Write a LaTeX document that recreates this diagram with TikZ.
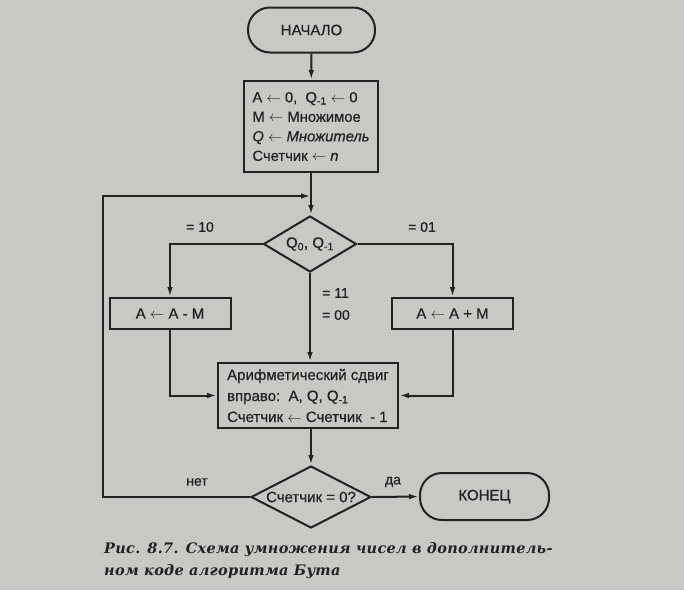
\documentclass[tikz,border=0pt]{standalone}
\usepackage{fontspec}
\setmainfont{Liberation Sans}[FakeBold=0.5, ItalicFeatures={FakeBold=0.5}]
\newfontfamily\capfont[LetterSpace=2]{DejaVu Serif}
\usetikzlibrary{shapes.geometric,arrows.meta}
\definecolor{paper}{RGB}{200,200,197}
\definecolor{ink}{RGB}{34,34,34}
\begin{document}
\begin{tikzpicture}[x=1pt,y=-1pt,
  every node/.style={text=ink},
  ln/.style={draw=ink, line width=2pt},
  arr/.style={ln, -{Latex[length=10pt,width=5.5pt]}},
  term/.style={ln, rectangle, rounded corners=22pt, minimum width=127pt, minimum height=45pt, font=\fontsize{15}{17}\selectfont},
  proc/.style={ln, rectangle, inner sep=0pt},
  dec/.style={ln, diamond, inner sep=0pt},
  lbl/.style={font=\fontsize{14}{16}\selectfont, inner sep=0pt}
]
\fill[paper] (0,0) rectangle (684,590);
% nodes
\node[term] (start) at (311.5,30) {НАЧАЛО};
\node[proc, minimum width=134pt, minimum height=91pt, align=left, font=\fontsize{14.8}{19.5}\selectfont] (init) at (311,126.5)
  {A $\leftarrow$ 0,\ \ Q\textsubscript{-1} $\leftarrow$ 0\\ M $\leftarrow$ Множимое\\ \textit{Q} $\leftarrow$ \textit{Множитель}\\ Счетчик $\leftarrow$ \textit{n}};
\node[dec, minimum width=93pt, minimum height=56pt, label={[lbl, font=\fontsize{15}{17}\selectfont]center:Q\textsubscript{0}, Q\textsubscript{-1}}] (d1) at (310,244) {};
\node[proc, minimum width=121pt, minimum height=31pt, font=\fontsize{15}{17}\selectfont] (lbox) at (170,313.5) {A $\leftarrow$ A - M};
\node[proc, minimum width=121pt, minimum height=31pt, font=\fontsize{15}{17}\selectfont] (rbox) at (452.5,313.5) {A $\leftarrow$ A + M};
\node[proc, minimum width=180pt, minimum height=65pt, align=left, font=\fontsize{15}{21}\selectfont] (ar) at (308,395.5)
  {Арифметический сдвиг\\ вправо:\ \ A, Q, Q\textsubscript{-1}\\ Счетчик $\leftarrow$ Счетчик\ \ - 1};
\node[dec, minimum width=120pt, minimum height=62pt, label={[lbl, font=\fontsize{15}{17}\selectfont]center:Счетчик = 0?}] (d2) at (311,497) {};
\node[term, minimum width=129pt, minimum height=47pt] (fin) at (484.5,496.5) {КОНЕЦ};
\coordinate (lp) at (103,196);
% labels
\node[lbl] at (200,227) {= 10};
\node[lbl] at (422,227) {= 01};
\node[lbl, anchor=west] at (322,293) {= 11};
\node[lbl, anchor=west] at (322,315) {= 00};
\node[lbl] at (197,482) {нет};
\node[lbl] at (393,482) {да};
% connectors
\draw[arr] (start) -- (init);
\draw[arr] (init.south) -- (init.south |- d1.north);
\draw[arr] (d1.west) -| (lbox.north);
\draw[arr] (d1.east) -| (rbox.north);
\draw[arr] (d1.south) -- (d1.south |- ar.north);
\draw[arr] (lbox.south) |- (ar.west);
\draw[arr] (rbox.south) |- (ar.east);
\draw[arr] (ar.south -| d2.north) -- (d2.north);
\draw[arr] (d2.east) -- (fin.west);
\draw[arr] (d2.west) -| (lp) -- (lp -| init.south);
% caption
\node[anchor=base west, inner sep=0pt, font=\capfont\fontsize{14.5}{16}\selectfont\itshape\bfseries] at (104,553) {Рис. 8.7. Схема умножения чисел в дополнитель-};
\node[anchor=base west, inner sep=0pt, font=\capfont\fontsize{14.5}{16}\selectfont\itshape\bfseries] at (104,575) {ном коде алгоритма Бута};
\end{tikzpicture}
\end{document}
